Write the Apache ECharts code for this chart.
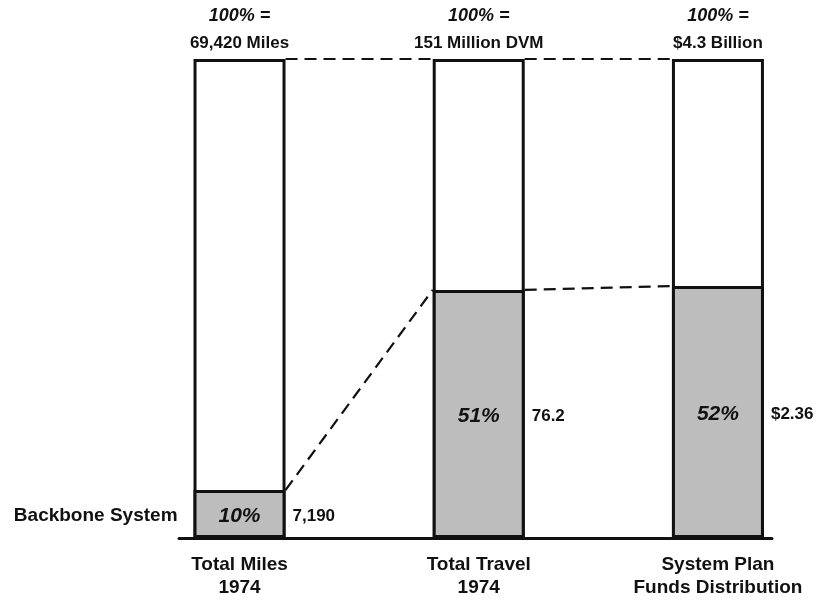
<!DOCTYPE html>
<html>
<head>
<meta charset="utf-8">
<script src="https://cdn.jsdelivr.net/npm/echarts@6/dist/echarts.min.js"></script>
<style>
  html, body { margin: 0; padding: 0; background: #fff; }
  #chart { width: 821px; height: 604px; }
</style>
</head>
<body>
<div id="chart"></div>
<script>
const categories = ['Total Miles\n1974', 'Total Travel\n1974', 'System Plan\nFunds Distribution'];
const topLabel = '100% =';
const totalShare = [100, 100, 100];
const totalLabels = ['69,420 Miles', '151 Million DVM', '$4.3 Billion'];
const backboneShare = [10, 51.8, 52.6];
const shareLabels = ['10%', '51%', '52%'];
const backboneValues = ['7,190', '76.2', '$2.36'];
const seriesLabel = 'Backbone System';

const FONT = '"Liberation Sans", Arial, sans-serif';
const BAR_W = 92;
const INK = '#111';

const connectors = [];
for (let i = 0; i < backboneShare.length - 1; i++) {
  connectors.push([i, i + 1, totalShare[i], totalShare[i + 1]]);
  connectors.push([i, i + 1, backboneShare[i], backboneShare[i + 1]]);
}

const chart = echarts.init(document.getElementById('chart'), null, { renderer: 'canvas' });

chart.setOption({
  backgroundColor: '#fff',
  animation: false,
  grid: { left: 179, right: 49, top: 59, bottom: 66, containLabel: false },
  xAxis: {
    type: 'value', min: -0.253, max: 2.226,
    axisLine: { show: true, lineStyle: { color: INK, width: 3 } },
    axisTick: { show: false }, axisLabel: { show: false }, splitLine: { show: false }
  },
  yAxis: { type: 'value', min: 0, max: 100, show: false },
  series: [
    {
      name: 'Total', type: 'bar', barWidth: BAR_W, barGap: '-100%',
      data: totalShare.map((v, i) => [i, v]),
      itemStyle: { color: '#fff', borderColor: INK, borderWidth: 3 },
      z: 2
    },
    {
      name: seriesLabel, type: 'bar', barWidth: BAR_W, barGap: '-100%',
      data: backboneShare.map((v, i) => [i, v]),
      itemStyle: { color: '#bdbdbd', borderColor: INK, borderWidth: 3 },
      z: 3
    },
    {
      type: 'custom', clip: false, z: 1,
      data: connectors,
      encode: { x: [0, 1], y: [2, 3] },
      renderItem: function (params, api) {
        const p1 = api.coord([api.value(0), api.value(2)]);
        const p2 = api.coord([api.value(1), api.value(3)]);
        return {
          type: 'line',
          shape: { x1: p1[0] + BAR_W / 2, y1: p1[1], x2: p2[0] - BAR_W / 2, y2: p2[1] },
          style: { stroke: INK, lineWidth: 2.2, lineDash: [12, 7] }
        };
      }
    },
    {
      type: 'custom', clip: false, z: 5,
      data: backboneShare.map((v, i) => [i, v]),
      renderItem: function (params, api) {
        const i = params.dataIndex;
        const v = api.value(1);
        const base = api.coord([i, 0]);
        const top = api.coord([i, totalShare[i]]);
        const mid = api.coord([i, v / 2]);
        const children = [
          { type: 'text', style: { text: topLabel, x: top[0], y: top[1] - 43, align: 'center', verticalAlign: 'middle',
            font: 'italic bold 18px ' + FONT, fill: INK } },
          { type: 'text', style: { text: totalLabels[i], x: top[0], y: top[1] - 16, align: 'center', verticalAlign: 'middle',
            font: 'bold 17px ' + FONT, fill: INK } },
          { type: 'text', style: { text: categories[i], x: base[0], y: base[1] + 15, align: 'center', verticalAlign: 'top',
            font: 'bold 19px ' + FONT, lineHeight: 23, fill: INK } },
          { type: 'text', style: { text: shareLabels[i], x: mid[0], y: mid[1] + 2, align: 'center', verticalAlign: 'middle',
            font: 'italic bold 21px ' + FONT, fill: INK } },
          { type: 'text', style: { text: backboneValues[i], x: mid[0] + BAR_W / 2 + 7, y: mid[1] + 2, align: 'left', verticalAlign: 'middle',
            font: 'bold 17px ' + FONT, fill: INK } }
        ];
        if (i === 0) {
          children.push({ type: 'text', style: { text: seriesLabel, x: mid[0] - BAR_W / 2 - 16, y: mid[1] + 2, align: 'right', verticalAlign: 'middle',
            font: 'bold 19px ' + FONT, fill: INK } });
        }
        return { type: 'group', children: children };
      }
    }
  ]
});
</script>
</body>
</html>
